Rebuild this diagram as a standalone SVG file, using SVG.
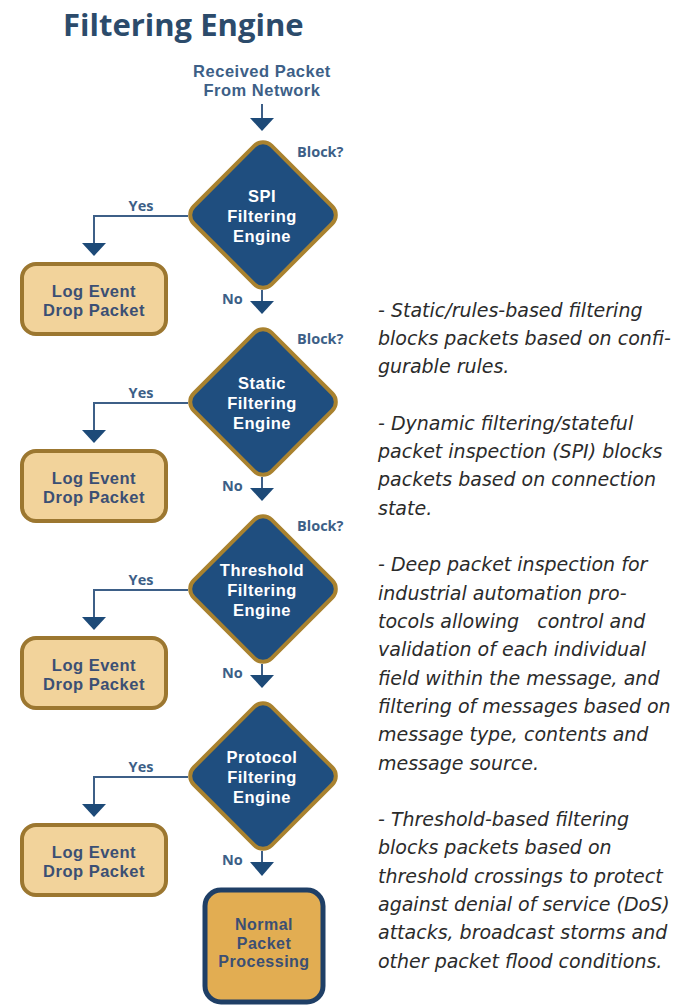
<svg xmlns="http://www.w3.org/2000/svg" width="687" height="1006" viewBox="0 0 687 1006">
<style>
.title{font-family:"Open Sans","Liberation Sans",sans-serif;font-weight:bold;font-size:31px;fill:#2c4b6b}
.lbl{font-family:"Open Sans","Liberation Sans",sans-serif;font-weight:bold;font-size:14.5px;fill:#3d5f87}
.top{font-family:"Liberation Sans",Arial,sans-serif;font-weight:bold;font-size:16.5px;letter-spacing:0.5px;fill:#3d5f87;text-anchor:middle}
.dtx{font-family:"Liberation Sans",Arial,sans-serif;font-weight:bold;font-size:16.5px;letter-spacing:0.5px;fill:#ffffff;text-anchor:middle}
.btx{font-family:"Liberation Sans",Arial,sans-serif;font-weight:bold;font-size:16.5px;letter-spacing:0.5px;fill:#3b4f74;text-anchor:middle}
.ntx{font-family:"Liberation Sans",Arial,sans-serif;font-weight:bold;font-size:16px;letter-spacing:0.5px;fill:#3b4f74;text-anchor:middle}
.dia{fill:#1f4e7f;stroke:#a9822f;stroke-width:4}
.log{fill:#f2d39b;stroke:#9c7730;stroke-width:4}
.norm{fill:#e2ad52;stroke:#1f3f66;stroke-width:5}
.ln{fill:none;stroke:#3d5f87;stroke-width:2}
.ah{fill:#1d4a78}
.desc{font-family:"DejaVu Sans","Open Sans",sans-serif;font-style:italic;font-size:19px;fill:#2b2b2b;white-space:pre}
</style>
<text class="title" x="63" y="36">Filtering Engine</text>
<g id="start">
<text class="top" x="262" y="77">Received Packet</text>
<text class="top" x="262" y="96">From Network</text>
</g>
<g id="connectors">
<line class="ln" x1="262" y1="104" x2="262" y2="120"/>
<polygon class="ah" points="250,118 274,118 262,131"/>
<path class="ln" d="M188,216 H94 V245"/>
<polygon class="ah" points="82,243 106,243 94,256"/>
<text class="lbl" x="141" y="211" text-anchor="middle">Yes</text>
<line class="ln" x1="262" y1="290" x2="262" y2="303"/>
<polygon class="ah" points="250,301 274,301 262,314"/>
<text class="lbl" x="222" y="304">No</text>
<path class="ln" d="M188,403 H94 V432"/>
<polygon class="ah" points="82,430 106,430 94,443"/>
<text class="lbl" x="141" y="398" text-anchor="middle">Yes</text>
<line class="ln" x1="262" y1="477" x2="262" y2="490"/>
<polygon class="ah" points="250,488 274,488 262,501"/>
<text class="lbl" x="222" y="491">No</text>
<path class="ln" d="M188,590 H94 V619"/>
<polygon class="ah" points="82,617 106,617 94,630"/>
<text class="lbl" x="141" y="585" text-anchor="middle">Yes</text>
<line class="ln" x1="262" y1="664" x2="262" y2="677"/>
<polygon class="ah" points="250,675 274,675 262,688"/>
<text class="lbl" x="222" y="678">No</text>
<path class="ln" d="M188,777 H94 V806"/>
<polygon class="ah" points="82,804 106,804 94,817"/>
<text class="lbl" x="141" y="772" text-anchor="middle">Yes</text>
<line class="ln" x1="262" y1="851" x2="262" y2="864"/>
<polygon class="ah" points="250,862 274,862 262,876"/>
<text class="lbl" x="222" y="865">No</text>
</g>
<g id="spi">
<rect class="dia" x="208" y="160" width="110" height="110" rx="12" transform="rotate(45 263 215)"/>
<text class="lbl" x="297" y="157">Block?</text>
<text class="dtx" x="262" y="202">SPI</text>
<text class="dtx" x="262" y="222">Filtering</text>
<text class="dtx" x="262" y="242">Engine</text>
</g>
<g id="log1">
<rect class="log" x="22" y="264" width="144" height="70" rx="14"/>
<text class="btx" x="94" y="297">Log Event</text>
<text class="btx" x="94" y="316">Drop Packet</text>
</g>
<g id="static">
<rect class="dia" x="208" y="347" width="110" height="110" rx="12" transform="rotate(45 263 402)"/>
<text class="lbl" x="297" y="344">Block?</text>
<text class="dtx" x="262" y="389">Static</text>
<text class="dtx" x="262" y="409">Filtering</text>
<text class="dtx" x="262" y="429">Engine</text>
</g>
<g id="log2">
<rect class="log" x="22" y="451" width="144" height="70" rx="14"/>
<text class="btx" x="94" y="484">Log Event</text>
<text class="btx" x="94" y="503">Drop Packet</text>
</g>
<g id="threshold">
<rect class="dia" x="208" y="534" width="110" height="110" rx="12" transform="rotate(45 263 589)"/>
<text class="lbl" x="297" y="531">Block?</text>
<text class="dtx" x="262" y="576">Threshold</text>
<text class="dtx" x="262" y="596">Filtering</text>
<text class="dtx" x="262" y="616">Engine</text>
</g>
<g id="log3">
<rect class="log" x="22" y="638" width="144" height="70" rx="14"/>
<text class="btx" x="94" y="671">Log Event</text>
<text class="btx" x="94" y="690">Drop Packet</text>
</g>
<g id="protocol">
<rect class="dia" x="208" y="721" width="110" height="110" rx="12" transform="rotate(45 263 776)"/>
<text class="dtx" x="262" y="763">Protocol</text>
<text class="dtx" x="262" y="783">Filtering</text>
<text class="dtx" x="262" y="803">Engine</text>
</g>
<g id="log4">
<rect class="log" x="22" y="825" width="144" height="70" rx="14"/>
<text class="btx" x="94" y="858">Log Event</text>
<text class="btx" x="94" y="877">Drop Packet</text>
</g>
<g id="normal">
<rect class="norm" x="205" y="890" width="118" height="112" rx="16"/>
<text class="ntx" x="264" y="930">Normal</text>
<text class="ntx" x="264" y="948.5">Packet</text>
<text class="ntx" x="264" y="967">Processing</text>
</g>
<g id="description">
<text class="desc" x="378" y="317">- Static/rules-based filtering</text>
<text class="desc" x="378" y="345">blocks packets based on confi-</text>
<text class="desc" x="378" y="373">gurable rules.</text>
<text class="desc" x="378" y="430">- Dynamic filtering/stateful</text>
<text class="desc" x="378" y="458">packet inspection (SPI) blocks</text>
<text class="desc" x="378" y="486">packets based on connection</text>
<text class="desc" x="378" y="515">state.</text>
<text class="desc" x="378" y="571">- Deep packet inspection for</text>
<text class="desc" x="378" y="600">industrial automation pro-</text>
<text class="desc" x="378" y="628">tocols allowing   control and</text>
<text class="desc" x="378" y="656">validation of each individual</text>
<text class="desc" x="378" y="685">field within the message, and</text>
<text class="desc" x="378" y="713">filtering of messages based on</text>
<text class="desc" x="378" y="741">message type, contents and</text>
<text class="desc" x="378" y="770">message source.</text>
<text class="desc" x="378" y="826">- Threshold-based filtering</text>
<text class="desc" x="378" y="854">blocks packets based on</text>
<text class="desc" x="378" y="883">threshold crossings to protect</text>
<text class="desc" x="378" y="911">against denial of service (DoS)</text>
<text class="desc" x="378" y="939">attacks, broadcast storms and</text>
<text class="desc" x="378" y="968">other packet flood conditions.</text>
</g>
</svg>
